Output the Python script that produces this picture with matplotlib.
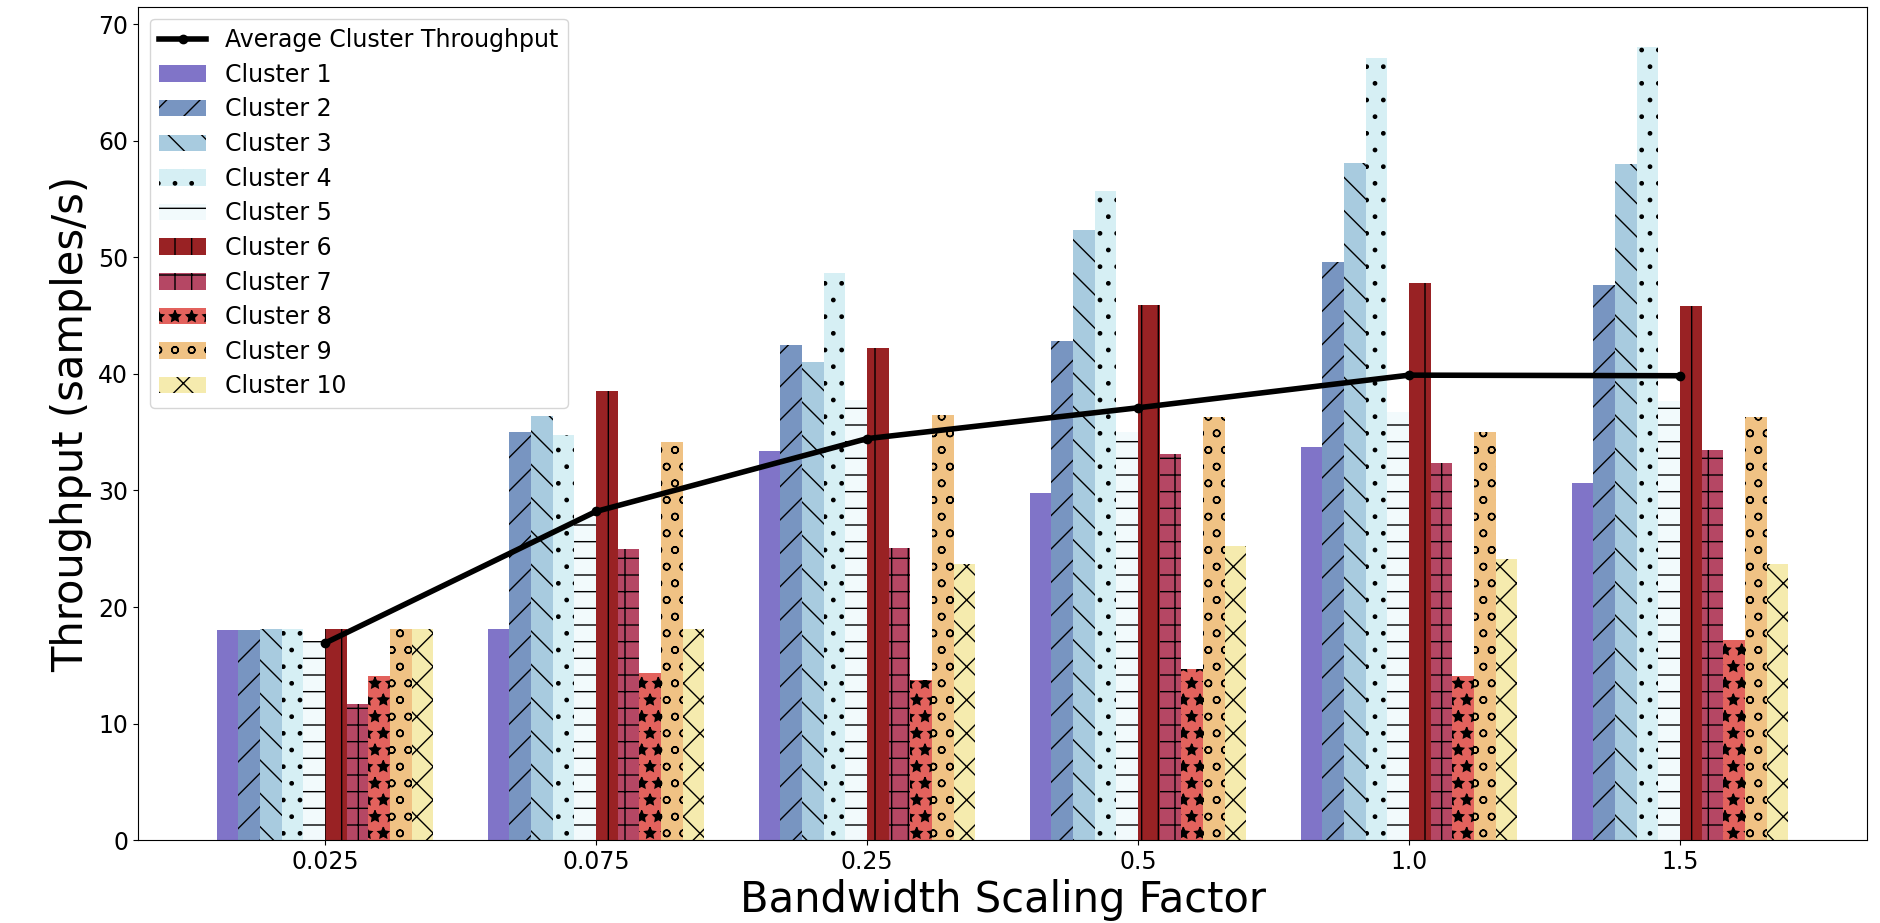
import numpy as np
import matplotlib
matplotlib.use("Agg")
import matplotlib.pyplot as plt

bandwidth_labels = ['0.025', '0.075', '0.25', '0.5', '1.0', '1.5']
cluster_names = ['Cluster 1', 'Cluster 2', 'Cluster 3', 'Cluster 4', 'Cluster 5',
                 'Cluster 6', 'Cluster 7', 'Cluster 8', 'Cluster 9', 'Cluster 10']
c1 = [18.0, 18.1, 33.4, 29.8, 33.75, 30.65]
c2 = [18.0, 35.0, 42.5, 42.8, 49.6, 47.6]
c3 = [18.1, 36.4, 41.0, 52.4, 58.1, 58.0]
c4 = [18.1, 34.8, 48.7, 55.7, 67.1, 68.1]
c5 = [17.1, 27.7, 37.8, 35.0, 36.7, 37.7]
c6 = [18.1, 38.5, 42.2, 45.9, 47.85, 45.85]
c7 = [11.7, 25.0, 25.1, 33.15, 32.4, 33.5]
c8 = [14.1, 14.35, 13.7, 14.7, 14.1, 17.2]
c9 = [18.1, 34.2, 36.5, 36.3, 35.05, 36.35]
c10 = [18.1, 18.1, 23.7, 25.25, 24.1, 23.7]
average = [16.9, 28.2, 34.45, 37.1, 39.9, 39.85]

series = [c1, c2, c3, c4, c5, c6, c7, c8, c9, c10]
colors = ['#8074C8', '#7895C1', '#A8CBDF', '#D6EFF4', '#F2FAFC',
          '#992224', '#B54764', '#E3625D', '#F0C284', '#F5EBAE']
hatches = ['', '/', '\\', '.', '-', '|', '+', '*', 'o', 'x']

fig, ax = plt.subplots(figsize=(18.8, 9.23), dpi=100)
fig.subplots_adjust(left=0.0734, right=0.9931, top=0.9925, bottom=0.0899)

x = np.arange(len(bandwidth_labels))
width = 0.08
for k, (vals, col, h, name) in enumerate(zip(series, colors, hatches, cluster_names)):
    ax.bar(x + (k - 4.5) * width, vals, width, color=col, hatch=h, label=name)

ax.plot(x, average, color='black', linewidth=4, marker='o', markersize=6,
        label='Average Cluster Throughput', zorder=5)

ax.set_xticks(x)
ax.set_xticklabels(bandwidth_labels)
ax.tick_params(axis='both', labelsize=17)
ax.set_xlabel('Bandwidth Scaling Factor', fontsize=30)
ax.set_ylabel('Throughput (samples/s)', fontsize=30)

ax.legend(loc='upper left', fontsize=17, labelspacing=0.45)

fig.savefig('out.png', dpi=100)
